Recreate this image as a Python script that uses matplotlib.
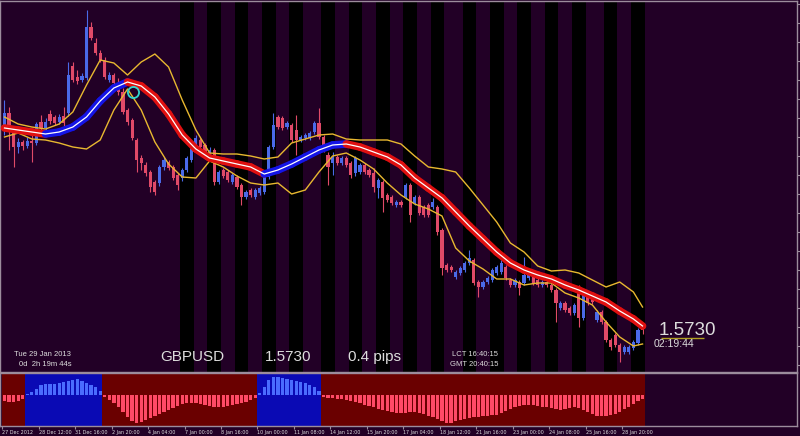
import numpy as np
import matplotlib
matplotlib.use("Agg")
import matplotlib.pyplot as plt

# GBPUSD H4, 27 Dec 2012 - 29 Jan 2013 (bar index 0..140)
opens = [1.6130, 1.6164, 1.6126, 1.6096, 1.6106, 1.6098, 1.6108, 1.6104, 1.6146, 1.6134,
         1.6162, 1.6156, 1.6146, 1.6158, 1.6164, 1.6258, 1.6236, 1.6230, 1.6234, 1.6336,
         1.6304, 1.6284, 1.6270, 1.6230, 1.6240, 1.6224, 1.6206, 1.6170, 1.6150, 1.6110,
         1.6074, 1.6060, 1.6046, 1.6026, 1.6024, 1.6056, 1.6066, 1.6056, 1.6040, 1.6034,
         1.6050, 1.6070, 1.6096, 1.6110, 1.6100, 1.6076, 1.6090, 1.6026, 1.6050, 1.6046,
         1.6026, 1.6036, 1.6020, 1.5996, 1.6010, 1.5996, 1.6004, 1.6006, 1.6036, 1.6096,
         1.6156, 1.6154, 1.6136, 1.6140, 1.6130, 1.6110, 1.6114, 1.6114, 1.6126, 1.6144,
         1.6116, 1.6080, 1.6064, 1.6076, 1.6064, 1.6074, 1.6064, 1.6044, 1.6046, 1.6060,
         1.6050, 1.6044, 1.6014, 1.6026, 1.6000, 1.5996, 1.5980, 1.5986, 1.5996, 1.6020,
         1.5984, 1.5996, 1.5976, 1.5980, 1.5976, 1.5976, 1.5930, 1.5860, 1.5856, 1.5836,
         1.5844, 1.5850, 1.5864, 1.5870, 1.5826, 1.5816, 1.5826, 1.5830, 1.5844, 1.5846,
         1.5856, 1.5830, 1.5820, 1.5826, 1.5824, 1.5834, 1.5836, 1.5830, 1.5820, 1.5826,
         1.5820, 1.5810, 1.5774, 1.5784, 1.5774, 1.5764, 1.5806, 1.5754, 1.5800, 1.5794,
         1.5750, 1.5766, 1.5746, 1.5710, 1.5720, 1.5700, 1.5686, 1.5686, 1.5694, 1.5704,
         1.5736]
closes = [1.6164, 1.6126, 1.6096, 1.6106, 1.6098, 1.6108, 1.6104, 1.6142, 1.6134, 1.6146,
          1.6148, 1.6144, 1.6156, 1.6144, 1.6240, 1.6230, 1.6228, 1.6238, 1.6336, 1.6314,
          1.6284, 1.6270, 1.6236, 1.6240, 1.6224, 1.6206, 1.6166, 1.6146, 1.6114, 1.6070,
          1.6064, 1.6044, 1.6016, 1.6006, 1.6056, 1.6070, 1.6054, 1.6034, 1.6020, 1.6050,
          1.6074, 1.6094, 1.6114, 1.6096, 1.6076, 1.6090, 1.6026, 1.6046, 1.6038, 1.6030,
          1.6040, 1.6016, 1.5996, 1.6006, 1.6000, 1.6010, 1.6014, 1.6036, 1.6096, 1.6140,
          1.6136, 1.6134, 1.6144, 1.6110, 1.6110, 1.6116, 1.6120, 1.6124, 1.6144, 1.6116,
          1.6090, 1.6056, 1.6076, 1.6064, 1.6074, 1.6060, 1.6040, 1.6074, 1.6060, 1.6046,
          1.6040, 1.6016, 1.6030, 1.5994, 1.5990, 1.5984, 1.5986, 1.5980, 1.6020, 1.5960,
          1.5996, 1.5964, 1.5960, 1.5960, 1.5986, 1.5926, 1.5854, 1.5850, 1.5850, 1.5846,
          1.5854, 1.5864, 1.5874, 1.5824, 1.5816, 1.5826, 1.5834, 1.5850, 1.5856, 1.5864,
          1.5834, 1.5820, 1.5830, 1.5814, 1.5840, 1.5846, 1.5824, 1.5820, 1.5826, 1.5820,
          1.5810, 1.5784, 1.5784, 1.5770, 1.5764, 1.5780, 1.5754, 1.5800, 1.5784, 1.5786,
          1.5766, 1.5746, 1.5710, 1.5696, 1.5700, 1.5686, 1.5696, 1.5696, 1.5706, 1.5730,
          1.5730]
highs = [1.6190, 1.6176, 1.6130, 1.6114, 1.6110, 1.6116, 1.6120, 1.6146, 1.6160, 1.6154,
         1.6170, 1.6160, 1.6162, 1.6176, 1.6266, 1.6266, 1.6250, 1.6244, 1.6370, 1.6346,
         1.6314, 1.6290, 1.6276, 1.6246, 1.6244, 1.6234, 1.6214, 1.6174, 1.6154, 1.6114,
         1.6080, 1.6066, 1.6050, 1.6030, 1.6060, 1.6076, 1.6070, 1.6060, 1.6044, 1.6054,
         1.6078, 1.6098, 1.6120, 1.6114, 1.6104, 1.6096, 1.6094, 1.6050, 1.6054, 1.6050,
         1.6044, 1.6040, 1.6024, 1.6010, 1.6014, 1.6014, 1.6018, 1.6040, 1.6100, 1.6164,
         1.6160, 1.6158, 1.6148, 1.6144, 1.6160, 1.6120, 1.6124, 1.6128, 1.6148, 1.6174,
         1.6120, 1.6086, 1.6086, 1.6080, 1.6078, 1.6078, 1.6068, 1.6078, 1.6064, 1.6064,
         1.6054, 1.6054, 1.6034, 1.6030, 1.6004, 1.6000, 1.5990, 1.5990, 1.6024, 1.6024,
         1.6000, 1.6000, 1.5980, 1.5984, 1.5994, 1.5980, 1.5934, 1.5864, 1.5860, 1.5850,
         1.5858, 1.5868, 1.5890, 1.5874, 1.5830, 1.5830, 1.5838, 1.5854, 1.5860, 1.5870,
         1.5860, 1.5834, 1.5834, 1.5830, 1.5876, 1.5850, 1.5840, 1.5834, 1.5830, 1.5830,
         1.5824, 1.5814, 1.5788, 1.5788, 1.5778, 1.5784, 1.5820, 1.5804, 1.5804, 1.5798,
         1.5770, 1.5770, 1.5750, 1.5714, 1.5724, 1.5704, 1.5700, 1.5700, 1.5710, 1.5734,
         1.5740]
lows = [1.6120, 1.6090, 1.6056, 1.6084, 1.6090, 1.6094, 1.6066, 1.6100, 1.6128, 1.6130,
        1.6142, 1.6140, 1.6142, 1.6138, 1.6158, 1.6226, 1.6222, 1.6226, 1.6230, 1.6310,
        1.6280, 1.6266, 1.6232, 1.6226, 1.6220, 1.6200, 1.6162, 1.6140, 1.6110, 1.6046,
        1.6050, 1.6038, 1.6006, 1.6000, 1.6018, 1.6050, 1.6050, 1.6030, 1.6010, 1.6028,
        1.6046, 1.6066, 1.6092, 1.6092, 1.6072, 1.6070, 1.6020, 1.6022, 1.6034, 1.6026,
        1.6022, 1.6012, 1.5980, 1.5992, 1.5996, 1.5992, 1.6000, 1.6002, 1.6032, 1.6092,
        1.6132, 1.6130, 1.6132, 1.6106, 1.6080, 1.6106, 1.6110, 1.6110, 1.6122, 1.6112,
        1.6086, 1.6020, 1.6040, 1.6060, 1.6060, 1.6056, 1.6034, 1.6038, 1.6042, 1.6042,
        1.6036, 1.6006, 1.5994, 1.5966, 1.5986, 1.5980, 1.5976, 1.5976, 1.5992, 1.5946,
        1.5980, 1.5960, 1.5956, 1.5956, 1.5972, 1.5920, 1.5840, 1.5846, 1.5846, 1.5832,
        1.5840, 1.5846, 1.5860, 1.5820, 1.5796, 1.5812, 1.5822, 1.5826, 1.5840, 1.5842,
        1.5830, 1.5816, 1.5816, 1.5800, 1.5820, 1.5830, 1.5820, 1.5816, 1.5816, 1.5816,
        1.5806, 1.5746, 1.5770, 1.5766, 1.5760, 1.5760, 1.5736, 1.5750, 1.5780, 1.5782,
        1.5746, 1.5742, 1.5706, 1.5690, 1.5696, 1.5666, 1.5682, 1.5682, 1.5690, 1.5700,
        1.5722]

# moving average and envelope bands, read every 3 bars (last point = bar 140)
band_bars = list(range(0, 139, 3)) + [140]
ma_line = [1.6134, 1.6130, 1.6126, 1.6122, 1.6126, 1.6136, 1.6156, 1.6188, 1.6214, 1.6226,
           1.6218, 1.6196, 1.6162, 1.6120, 1.6092, 1.6074, 1.6068, 1.6062, 1.6056, 1.6042,
           1.6050, 1.6062, 1.6076, 1.6090, 1.6100, 1.6102, 1.6096, 1.6086, 1.6076, 1.6060,
           1.6034, 1.6014, 1.5994, 1.5966, 1.5938, 1.5912, 1.5886, 1.5864, 1.5850, 1.5840,
           1.5832, 1.5820, 1.5810, 1.5798, 1.5786, 1.5768, 1.5752, 1.5738]
upper_band = [1.6156, 1.6142, 1.6136, 1.6132, 1.6142, 1.6166, 1.6220, 1.6270, 1.6264, 1.6240,
              1.6266, 1.6282, 1.6256, 1.6190, 1.6130, 1.6084, 1.6082, 1.6082, 1.6078, 1.6072,
              1.6076, 1.6104, 1.6112, 1.6120, 1.6122, 1.6112, 1.6110, 1.6110, 1.6110, 1.6102,
              1.6078, 1.6056, 1.6052, 1.6046, 1.6014, 1.5980, 1.5946, 1.5904, 1.5886, 1.5858,
              1.5848, 1.5850, 1.5844, 1.5830, 1.5816, 1.5826, 1.5806, 1.5776]
lower_band = [1.6116, 1.6124, 1.6112, 1.6110, 1.6104, 1.6096, 1.6092, 1.6110, 1.6170, 1.6212,
              1.6170, 1.6106, 1.6062, 1.6036, 1.6034, 1.6068, 1.6056, 1.6038, 1.6024, 1.6020,
              1.6024, 1.6002, 1.6010, 1.6046, 1.6078, 1.6084, 1.6070, 1.6052, 1.6024, 1.6000,
              1.5982, 1.5972, 1.5958, 1.5894, 1.5868, 1.5852, 1.5832, 1.5832, 1.5820, 1.5824,
              1.5824, 1.5804, 1.5794, 1.5780, 1.5746, 1.5716, 1.5698, 1.5702]

# oscillator histogram (one value per bar)
osc = [-6, -7, -7, -6, -4, 1, 3, 6, 10, 11, 11, 11, 12, 13, 14, 15, 16, 14, 12, 10,
       8, 4, -2, -5, -8, -12, -17, -22, -26, -28, -27, -25, -23, -21, -19, -17, -15, -13, -11, -9,
       -8, -8, -8, -9, -10, -11, -12, -12, -12, -11, -10, -9, -8, -7, -5, -3, 2, 8, 15, 18,
       18, 17, 16, 15, 14, 13, 12, 10, 8, 4, -2, -3, -3, -4, -4, -5, -6, -7, -8, -10,
       -11, -12, -14, -15, -16, -17, -18, -18, -18, -17, -17, -18, -19, -21, -22, -24, -26, -28, -28, -26,
       -25, -24, -23, -22, -22, -21, -21, -20, -20, -18, -16, -14, -12, -11, -10, -10, -10, -11, -12, -12,
       -13, -14, -15, -14, -13, -12, -13, -15, -17, -19, -21, -21, -21, -20, -19, -17, -14, -12, -9, -6,
       -4]

# dark session bands (first bar of each)
session_starts = [39, 45, 51, 57, 63, 70, 76, 82, 88, 94, 101, 107, 113, 119, 125, 132, 138]

tick_labels = ["27 Dec 2012", "28 Dec 12:00", "31 Dec 16:00", "2 Jan 20:00", "4 Jan 04:00",
               "7 Jan 00:00", "8 Jan 16:00", "10 Jan 00:00", "11 Jan 08:00", "14 Jan 12:00",
               "15 Jan 20:00", "17 Jan 04:00", "18 Jan 12:00", "21 Jan 16:00", "23 Jan 00:00",
               "24 Jan 08:00", "25 Jan 16:00", "28 Jan 20:00"]
tick_bars = [8 * k - 0.5 for k in range(len(tick_labels))]

last_price = 1.5730
signal_bar, signal_price = 28.1, 1.6206

BG = "#220026"
FRAME = "#9c8c9c"
TXT = "#dcdcdc"
BLUE_C = "#4a6ae8"
RED_C = "#e04a68"

opens, closes = np.array(opens), np.array(closes)
highs, lows = np.array(highs), np.array(lows)
bars = np.arange(len(closes))
xlim = (-0.88, 174.0)

fig = plt.figure(figsize=(8, 4.36), dpi=100, facecolor=BG)
ax = fig.add_axes([0.0006, 64 / 436, 797 / 800, 371 / 436], facecolor=BG)
ax2 = fig.add_axes([0.0006, 10 / 436, 797 / 800, 53 / 436], facecolor=BG)

# main panel -------------------------------------------------------
for s in session_starts:
    ax.axvspan(s - 0.5, s + 2.5, color="black", lw=0, zorder=0)

up = closes >= opens
cols = np.where(up, BLUE_C, RED_C)
ax.vlines(bars, lows, highs, colors=cols, lw=0.8, zorder=2)
body_lo = np.minimum(opens, closes)
body_h = np.maximum(np.abs(closes - opens), 0.00012)
ax.bar(bars, body_h, bottom=body_lo, width=0.7, color=cols, lw=0, zorder=3)

ax.plot(band_bars, upper_band, color="#e8b830", lw=1, zorder=4)
ax.plot(band_bars, lower_band, color="#e8b830", lw=1, zorder=4)

for i in range(len(band_bars) - 1):
    c = "#1414e6" if ma_line[i + 1] > ma_line[i] else "#e01010"
    ax.plot(band_bars[i:i + 2], ma_line[i:i + 2], color=c, lw=5.5,
            solid_capstyle="round", zorder=5)
ax.plot(band_bars, ma_line, color="white", lw=0.9, zorder=6)

ax.plot([signal_bar], [signal_price], "o", mfc="none", mec="#30d8d0", ms=8, mew=1.3, zorder=7)
ax.hlines(last_price - 0.0016, 144, 153.5, color="#b0a020", lw=1, zorder=4)

ax.set_xlim(*xlim)
ax.set_ylim(1.5646, 1.6388)
ax.set_xticks([])
ax.yaxis.tick_right()
ax.set_yticks(np.arange(1.5660, 1.6388, 0.0038))
ax.tick_params(axis="y", length=2, color=FRAME, labelright=False, direction="out")
for sp in ax.spines.values():
    sp.set_color(FRAME)
    sp.set_linewidth(1)

# oscillator panel -------------------------------------------------
osc = np.array(osc)
n = len(osc)
bg_cols = np.where(osc > 0, "#0a0ab4", "#6a0000")
ax2.bar(np.arange(n), 60, bottom=-35, width=1.0, color=bg_cols, lw=0, zorder=0)
bar_cols = np.where(osc > 0, "#4a6cff", "#ff4a66")
ax2.bar(np.arange(n), osc, width=0.72, color=bar_cols, lw=0, zorder=2)
ax2.set_xlim(*xlim)
ax2.set_ylim(-31, 22)
ax2.set_yticks([])
ax2.set_xticks(tick_bars)
ax2.set_xticklabels(tick_labels, ha="left", fontsize=3.9, color=TXT,
                    family="DejaVu Sans", fontstretch="condensed")
ax2.tick_params(axis="x", length=2, color=FRAME, pad=1)
for sp in ax2.spines.values():
    sp.set_color(FRAME)
    sp.set_linewidth(1)


# info texts -------------------------------------------------------
def px_text(x, y, s, size, **kw):
    fig.text(x / 800, 1 - y / 436, s, fontsize=size, color=TXT,
             family="Liberation Sans", va="center", **kw)


px_text(14, 355, "Tue 29 Jan 2013", 5.5)
px_text(19, 364, "0d  2h 19m 44s", 5.5)
px_text(160, 357, "GBPUSD", 11)
px_text(265, 357, "1.5730", 11)
px_text(348, 357, "0.4 pips", 11)
px_text(498, 355, "LCT 16:40:15", 5.5, ha="right")
px_text(498, 364, "GMT 20:40:15", 5.5, ha="right")
px_text(659, 330, "1.5730", 13.5)
px_text(654, 344, "02:19:44", 7.5)

fig.savefig("out.png", dpi=100, facecolor=BG)
